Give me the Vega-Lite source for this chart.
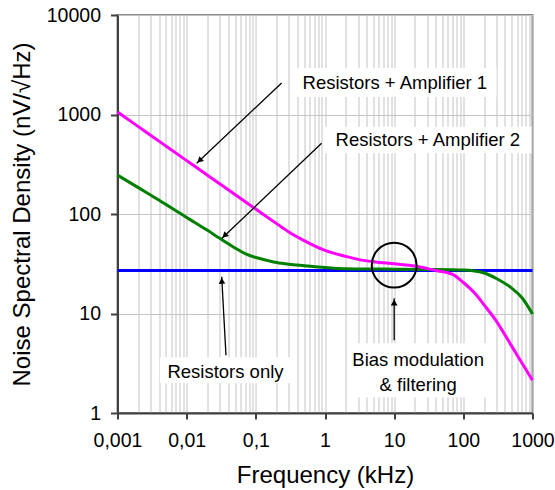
{
  "$schema": "https://vega.github.io/schema/vega-lite/v6.json",
  "width": 415,
  "height": 398,
  "autosize": "none",
  "padding": {"left": 117.5, "top": 15, "right": 22.5, "bottom": 77},
  "background": "white",
  "config": {
    "view": {"stroke": "#888888", "strokeWidth": 2},
    "font": "Liberation Sans"
  },
  "datasets": {
    "curves": [
      {"series": "Resistors only", "f": 0.001, "v": 27},
      {"series": "Resistors only", "f": 1000, "v": 27},
      {"series": "Resistors + Amplifier 2", "f": 0.001, "v": 246},
      {"series": "Resistors + Amplifier 2", "f": 0.002, "v": 184},
      {"series": "Resistors + Amplifier 2", "f": 0.003, "v": 155},
      {"series": "Resistors + Amplifier 2", "f": 0.005, "v": 125},
      {"series": "Resistors + Amplifier 2", "f": 0.007, "v": 108},
      {"series": "Resistors + Amplifier 2", "f": 0.01, "v": 92},
      {"series": "Resistors + Amplifier 2", "f": 0.015, "v": 77.5},
      {"series": "Resistors + Amplifier 2", "f": 0.02, "v": 68.5},
      {"series": "Resistors + Amplifier 2", "f": 0.03, "v": 57},
      {"series": "Resistors + Amplifier 2", "f": 0.05, "v": 45.5},
      {"series": "Resistors + Amplifier 2", "f": 0.07, "v": 40},
      {"series": "Resistors + Amplifier 2", "f": 0.1, "v": 36.5},
      {"series": "Resistors + Amplifier 2", "f": 0.15, "v": 34},
      {"series": "Resistors + Amplifier 2", "f": 0.2, "v": 32.5},
      {"series": "Resistors + Amplifier 2", "f": 0.3, "v": 31.2},
      {"series": "Resistors + Amplifier 2", "f": 0.5, "v": 30.2},
      {"series": "Resistors + Amplifier 2", "f": 1, "v": 29},
      {"series": "Resistors + Amplifier 2", "f": 2, "v": 28.2},
      {"series": "Resistors + Amplifier 2", "f": 5, "v": 28},
      {"series": "Resistors + Amplifier 2", "f": 10, "v": 27.9},
      {"series": "Resistors + Amplifier 2", "f": 30, "v": 27.7},
      {"series": "Resistors + Amplifier 2", "f": 100, "v": 27.3},
      {"series": "Resistors + Amplifier 2", "f": 200, "v": 25.5},
      {"series": "Resistors + Amplifier 2", "f": 300, "v": 22.5},
      {"series": "Resistors + Amplifier 2", "f": 500, "v": 18},
      {"series": "Resistors + Amplifier 2", "f": 700, "v": 14.5},
      {"series": "Resistors + Amplifier 2", "f": 1000, "v": 9.9},
      {"series": "Resistors + Amplifier 1", "f": 0.001, "v": 1060},
      {"series": "Resistors + Amplifier 1", "f": 0.002, "v": 755},
      {"series": "Resistors + Amplifier 1", "f": 0.003, "v": 620},
      {"series": "Resistors + Amplifier 1", "f": 0.005, "v": 483},
      {"series": "Resistors + Amplifier 1", "f": 0.01, "v": 344},
      {"series": "Resistors + Amplifier 1", "f": 0.02, "v": 245},
      {"series": "Resistors + Amplifier 1", "f": 0.03, "v": 201},
      {"series": "Resistors + Amplifier 1", "f": 0.05, "v": 157},
      {"series": "Resistors + Amplifier 1", "f": 0.1, "v": 112},
      {"series": "Resistors + Amplifier 1", "f": 0.2, "v": 80},
      {"series": "Resistors + Amplifier 1", "f": 0.3, "v": 66},
      {"series": "Resistors + Amplifier 1", "f": 0.5, "v": 54},
      {"series": "Resistors + Amplifier 1", "f": 1, "v": 43},
      {"series": "Resistors + Amplifier 1", "f": 2, "v": 37.5},
      {"series": "Resistors + Amplifier 1", "f": 3, "v": 35},
      {"series": "Resistors + Amplifier 1", "f": 5, "v": 33.2},
      {"series": "Resistors + Amplifier 1", "f": 10, "v": 31.6},
      {"series": "Resistors + Amplifier 1", "f": 20, "v": 30},
      {"series": "Resistors + Amplifier 1", "f": 40, "v": 27},
      {"series": "Resistors + Amplifier 1", "f": 70, "v": 24.7},
      {"series": "Resistors + Amplifier 1", "f": 100, "v": 20.5},
      {"series": "Resistors + Amplifier 1", "f": 150, "v": 15.7},
      {"series": "Resistors + Amplifier 1", "f": 200, "v": 12.2},
      {"series": "Resistors + Amplifier 1", "f": 300, "v": 8.4},
      {"series": "Resistors + Amplifier 1", "f": 500, "v": 4.7},
      {"series": "Resistors + Amplifier 1", "f": 700, "v": 3.2},
      {"series": "Resistors + Amplifier 1", "f": 1000, "v": 2.13}
    ],
    "boxes": [
      {"f1": 0.389, "f2": 302, "v1": 1500, "v2": 2937},
      {"f1": 1.0, "f2": 968, "v1": 407, "v2": 754},
      {"f1": 0.00411, "f2": 0.311, "v1": 1.99, "v2": 3.63},
      {"f1": 2.14, "f2": 226, "v1": 1.44, "v2": 5.03}
    ],
    "labels": [
      {"text": "Resistors + Amplifier 1", "f": 10.23, "v": 2089},
      {"text": "Resistors + Amplifier 2", "f": 30.7, "v": 554},
      {"text": "Resistors only", "f": 0.0364, "v": 2.585},
      {"text": "Bias modulation", "f": 22.2, "v": 3.39},
      {"text": "& filtering", "f": 22.2, "v": 1.9}
    ],
    "arrows": [
      {"id": 1, "f1": 0.236, "v1": 2075, "f2": 0.01395, "v2": 323, "hf": 0.01535, "hv": 344},
      {"id": 2, "f1": 0.893, "v1": 513, "f2": 0.0321, "v2": 56.8, "hf": 0.0353, "hv": 60.6},
      {"id": 3, "f1": 0.037, "v1": 3.81, "f2": 0.0321, "v2": 23.4, "hf": 0.0322, "hv": 21.3},
      {"id": 4, "f1": 10, "v1": 5.39, "f2": 10, "v2": 14.2, "hf": 10, "hv": 12.9}
    ],
    "circle": [{"f": 10, "v": 30.6}]
  },
  "encoding": {
    "x": {
      "type": "quantitative",
      "scale": {"type": "log", "domain": [0.001, 1000], "nice": false},
      "axis": {
        "title": "Frequency (kHz)",
        "values": [0.001,0.002,0.003,0.004,0.005,0.006,0.007,0.008,0.009,0.01,0.02,0.03,0.04,0.05,0.06,0.07,0.08,0.09,0.1,0.2,0.3,0.4,0.5,0.6,0.7,0.8,0.9,1,2,3,4,5,6,7,8,9,10,20,30,40,50,60,70,80,90,100,200,300,400,500,600,700,800,900,1000],
        "labelExpr": "abs(log(datum.value)/LN10 - round(log(datum.value)/LN10)) < 0.01 ? (datum.value >= 1 ? format(datum.value, 'd') : replace(format(datum.value, '~g'), '.', ',')) : ''",
        "tickOpacity": {"condition": {"test": "abs(log(datum.value)/LN10 - round(log(datum.value)/LN10)) < 0.01", "value": 1}, "value": 0},
        "labelOverlap": false,
        "labelFlush": false,
        "grid": true,
        "gridColor": "#c4c4c4",
        "gridWidth": 1,
        "domainColor": "#404040",
        "domainWidth": 2,
        "tickColor": "#404040",
        "tickWidth": 2,
        "tickSize": 6,
        "labelFont": "Liberation Sans",
        "labelFontSize": 19.5,
        "labelColor": "black",
        "labelPadding": 12,
        "titleFont": "Liberation Sans",
        "titleFontSize": 24,
        "titleFontWeight": "normal",
        "titleColor": "black",
        "titlePadding": 14
      }
    },
    "y": {
      "type": "quantitative",
      "scale": {"type": "log", "domain": [1, 10000], "nice": false},
      "axis": {
        "title": "Noise Spectral Density (nV/√Hz)",
        "values": [1, 10, 100, 1000, 10000],
        "format": "d",
        "grid": true,
        "gridColor": "#c4c4c4",
        "gridWidth": 1,
        "domainColor": "#404040",
        "domainWidth": 2,
        "tickColor": "#404040",
        "tickWidth": 2,
        "tickSize": 7,
        "labelFont": "Liberation Sans",
        "labelFontSize": 19.5,
        "labelColor": "black",
        "labelPadding": 10,
        "titleFont": "Liberation Sans",
        "titleFontSize": 24,
        "titleFontWeight": "normal",
        "titleColor": "black",
        "titlePadding": 12
      }
    }
  },
  "layer": [
    {
      "data": {"name": "curves"},
      "mark": {"type": "line", "strokeWidth": 3, "interpolate": "monotone"},
      "encoding": {
        "x": {"field": "f"},
        "y": {"field": "v"},
        "color": {
          "field": "series", "type": "nominal",
          "scale": {"domain": ["Resistors + Amplifier 1", "Resistors + Amplifier 2", "Resistors only"], "range": ["#ff00ff", "#008000", "#0000ff"]},
          "legend": null
        }
      }
    },
    {
      "data": {"name": "boxes"},
      "mark": {"type": "rect", "fill": "white"},
      "encoding": {
        "x": {"field": "f1"},
        "x2": {"field": "f2"},
        "y": {"field": "v1"},
        "y2": {"field": "v2"}
      }
    },
    {
      "data": {"name": "labels"},
      "mark": {"type": "text", "font": "Liberation Sans", "fontSize": 18.5, "color": "black", "align": "center", "baseline": "middle"},
      "encoding": {
        "x": {"field": "f"},
        "y": {"field": "v"},
        "text": {"field": "text"}
      }
    },
    {
      "data": {"name": "arrows"},
      "mark": {"type": "rule", "color": "black", "strokeWidth": 1.3},
      "encoding": {
        "x": {"field": "f1"},
        "x2": {"field": "f2"},
        "y": {"field": "v1"},
        "y2": {"field": "v2"}
      }
    },
    {
      "data": {"name": "arrows"},
      "transform": [{"filter": "datum.id <= 2"}],
      "mark": {"type": "point", "shape": "triangle-up", "filled": true, "color": "black", "size": 45, "angle": 226.5, "opacity": 1},
      "encoding": {
        "x": {"field": "hf"},
        "y": {"field": "hv"}
      }
    },
    {
      "data": {"name": "arrows"},
      "transform": [{"filter": "datum.id == 3"}],
      "mark": {"type": "point", "shape": "triangle-up", "filled": true, "color": "black", "size": 45, "angle": 357, "opacity": 1},
      "encoding": {
        "x": {"field": "hf"},
        "y": {"field": "hv"}
      }
    },
    {
      "data": {"name": "arrows"},
      "transform": [{"filter": "datum.id == 4"}],
      "mark": {"type": "point", "shape": "triangle-up", "filled": true, "color": "black", "size": 45, "angle": 0, "opacity": 1},
      "encoding": {
        "x": {"field": "hf"},
        "y": {"field": "hv"}
      }
    },
    {
      "data": {"name": "circle"},
      "mark": {"type": "point", "shape": "circle", "filled": false, "stroke": "black", "strokeWidth": 2, "size": 2010, "opacity": 1},
      "encoding": {
        "x": {"field": "f"},
        "y": {"field": "v"}
      }
    }
  ]
}
